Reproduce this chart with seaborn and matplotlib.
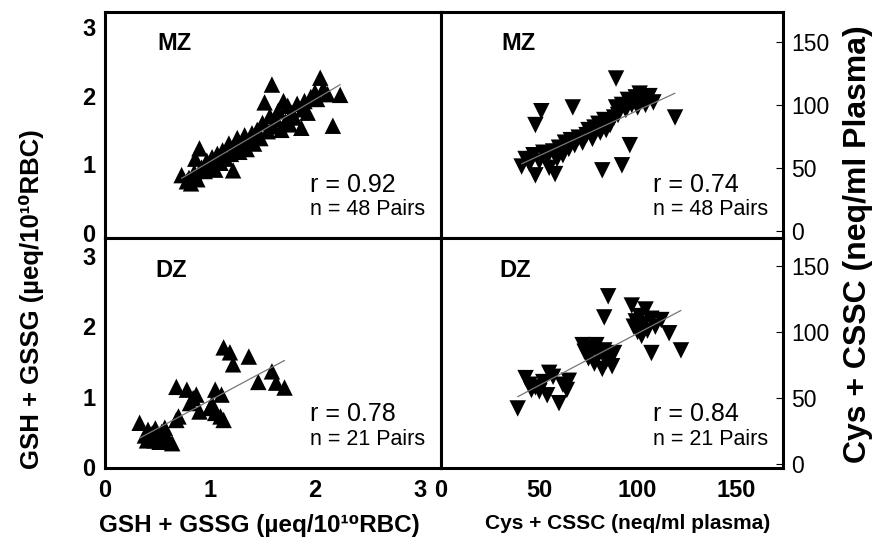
"""
twin_thiols.py
Scatter of twin-pair thiol levels: erythrocyte GSH + GSSG (left column)
and plasma Cys + CSSC (right column), MZ twins on top, DZ twins below.
"""

import matplotlib
matplotlib.use("Agg")
import matplotlib.pyplot as plt
import seaborn as sns

# ── Data ───────────────────────────────────────────────────────────────────
# MZ, GSH + GSSG (µeq/10^10 RBC), twin A vs twin B
mz_gsh_x = [0.73, 0.78, 0.80, 0.82, 0.85, 0.86, 0.88, 0.90, 0.92, 0.95,
            0.97, 1.00, 1.02, 1.05, 1.07, 1.10, 1.12, 1.15, 1.18, 1.20,
            1.22, 1.24, 1.26, 1.28, 1.30, 1.33, 1.35, 1.38, 1.40, 1.42,
            1.45, 1.48, 1.50, 1.52, 1.55, 1.57, 1.59, 1.60, 1.63, 1.65,
            1.68, 1.70, 1.72, 1.74, 1.76, 1.78, 1.80, 1.83, 1.87, 1.88,
            1.90, 1.93, 1.96, 2.00, 2.02, 2.05, 2.08, 2.12, 2.17, 2.24]
mz_gsh_y = [0.84, 0.75, 0.80, 0.72, 0.88, 1.08, 0.78, 1.23, 0.95, 0.90,
            1.05, 0.98, 1.10, 0.92, 1.15, 1.02, 1.20, 1.08, 1.30, 1.15,
            0.91, 1.25, 1.38, 1.18, 1.30, 1.42, 1.22, 1.35, 1.45, 1.30,
            1.50, 1.38, 1.60, 1.90, 1.48, 1.70, 2.16, 1.55, 1.65, 1.78,
            1.50, 1.92, 1.62, 1.85, 1.58, 1.75, 1.68, 1.88, 1.53, 1.80,
            1.92, 1.75, 1.98, 2.05, 1.95, 2.26, 2.10, 2.02, 1.56, 2.01]

# MZ, Cys + CSSC (neq/ml plasma)
mz_cys_x = [41, 43, 45, 47, 48, 48, 50, 51, 52, 54, 55, 57, 58, 59, 60,
            62, 63, 65, 66, 67, 68, 70, 72, 74, 75, 77, 78, 80, 81, 82,
            83, 84, 86, 88, 89, 89, 90, 92, 92, 94, 95, 96, 97, 99, 100,
            101, 102, 104, 106, 108, 119]
mz_cys_y = [51, 57, 53, 60, 44, 84, 55, 95, 62, 58, 50, 63, 45, 57, 66,
            60, 70, 65, 72, 98, 68, 74, 70, 76, 80, 73, 82, 85, 78, 48,
            88, 80, 84, 90, 121, 98, 92, 52, 100, 96, 104, 68, 100, 106, 98,
            109, 103, 100, 107, 102, 90]

# DZ, GSH + GSSG
dz_gsh_x = [0.33, 0.38, 0.40, 0.41, 0.43, 0.45, 0.47, 0.48, 0.50, 0.52,
            0.54, 0.56, 0.57, 0.60, 0.64, 0.68, 0.70, 0.68, 0.78, 0.81,
            0.84, 0.87, 0.90, 1.00, 1.02, 1.05, 1.05, 1.11, 1.13, 1.10,
            1.13, 1.19, 1.22, 1.37, 1.46, 1.59, 1.63, 1.71]
dz_gsh_y = [0.63, 0.45, 0.38, 0.53, 0.42, 0.48, 0.38, 0.55, 0.42, 0.36,
            0.50, 0.44, 0.56, 0.40, 0.34, 0.67, 0.72, 1.14, 1.10, 0.91,
            0.98, 1.03, 0.79, 0.84, 0.90, 1.10, 0.77, 1.03, 0.67, 0.72,
            1.70, 1.63, 1.46, 1.57, 1.21, 1.36, 1.20, 1.13]

# DZ, Cys + CSSC
dz_cys_x = [39, 43, 45, 46, 48, 50, 52, 54, 55, 57, 60, 62, 64, 65, 72,
            73, 75, 76, 78, 79, 80, 82, 83, 83, 84, 85, 86, 87, 88, 97,
            98, 99, 100, 101, 102, 103, 104, 105, 107, 107, 109, 112, 116, 122]
dz_cys_y = [42, 65, 60, 56, 58, 55, 62, 52, 69, 66, 46, 60, 56, 63, 90,
            85, 80, 88, 76, 90, 83, 72, 111, 86, 78, 127, 80, 74, 84, 120,
            104, 108, 100, 112, 97, 106, 117, 101, 84, 110, 104, 109, 99, 86]

groups = ["MZ", "MZ", "DZ", "DZ"]
r_values = ["0.92", "0.74", "0.78", "0.84"]
n_pairs = [48, 48, 21, 21]

gsh_ticks = [0, 1, 2, 3]
cys_ticks = [0, 50, 100, 150]

sns.set_style("white")
plt.rcParams["font.family"] = ["Liberation Sans", "DejaVu Sans"]
plt.rcParams["text.color"] = "black"
plt.rcParams["axes.labelcolor"] = "black"
plt.rcParams["xtick.color"] = "black"
plt.rcParams["ytick.color"] = "black"

fig = plt.figure(figsize=(8.82, 5.39), dpi=100)

L, M, R = 0.119, 0.5, 0.888
B, MID, T = 0.132, 0.558, 0.978
ax_tl = fig.add_axes([L, MID, M - L, T - MID])
ax_tr = fig.add_axes([M, MID, R - M, T - MID])
ax_bl = fig.add_axes([L, B, M - L, MID - B])
ax_br = fig.add_axes([M, B, R - M, MID - B])

panels = [
    (ax_tl, mz_gsh_x, mz_gsh_y, "^"),
    (ax_tr, mz_cys_x, mz_cys_y, "v"),
    (ax_bl, dz_gsh_x, dz_gsh_y, "^"),
    (ax_br, dz_cys_x, dz_cys_y, "v"),
]
label_x = [0.155, 0.175, 0.15, 0.17]

for i, (ax, xs, ys, mk) in enumerate(panels):
    sns.regplot(x=xs, y=ys, ax=ax, ci=None, marker=mk,
                scatter_kws=dict(s=140, color="black", edgecolors="none", alpha=1),
                line_kws=dict(color="#777777", lw=0.9))
    for sp in ax.spines.values():
        sp.set_visible(True)
        sp.set_linewidth(2.2)
        sp.set_color("black")
    ax.tick_params(direction="in", length=5, width=0.8, colors="black")

    ax.text(label_x[i], 0.86, groups[i], transform=ax.transAxes,
            fontsize=17, fontweight="bold", ha="left", va="center")
    tx = 0.61 if i % 2 == 0 else 0.62
    ax.text(tx, 0.235, f"r = {r_values[i]}", transform=ax.transAxes,
            fontsize=18, ha="left", va="center")
    ax.text(tx, 0.125, f"n = {n_pairs[i]} Pairs", transform=ax.transAxes,
            fontsize=15.5, ha="left", va="center")

# ── Left column: GSH + GSSG ────────────────────────────────────────────────
for ax in (ax_tl, ax_bl):
    ax.set_xlim(0, 3.2)
    ax.set_xticks(gsh_ticks)
    ax.set_yticks(gsh_ticks)
    ax.set_yticklabels([str(t) for t in gsh_ticks], fontsize=17, fontweight="bold")
    ax.tick_params(axis="y", pad=7)
ax_tl.set_ylim(-0.08, 3.22)
ax_bl.set_ylim(-0.01, 3.25)

# ── Right column: Cys + CSSC ───────────────────────────────────────────────
for ax in (ax_tr, ax_br):
    ax.set_xlim(0, 174)
    ax.set_xticks(cys_ticks)
    ax.yaxis.tick_right()
    ax.set_yticks(cys_ticks)
    ax.set_yticklabels([str(t) for t in cys_ticks], fontsize=16.5)
    ax.tick_params(axis="y", pad=6)
ax_tr.set_ylim(-6, 174)
ax_br.set_ylim(-3, 171)

for ax in (ax_tl, ax_tr):
    ax.set_xticklabels([])

ax_bl.set_xticklabels([str(t) for t in gsh_ticks], fontsize=17, fontweight="bold")
ax_br.set_xticklabels([str(t) for t in cys_ticks], fontsize=17, fontweight="bold")
ax_bl.tick_params(axis="x", pad=8)
ax_br.tick_params(axis="x", pad=8)

ax_bl.set_xlabel("GSH + GSSG (µeq/10¹⁰RBC)", fontsize=17.5, fontweight="bold")
ax_br.set_xlabel("Cys + CSSC (neq/ml plasma)", fontsize=15, fontweight="bold")
ax_bl.xaxis.set_label_coords(0.46, -0.20)
ax_br.xaxis.set_label_coords(0.545, -0.20)

fig.text(0.036, 0.445, "GSH + GSSG (µeq/10¹⁰RBC)", rotation=90,
         fontsize=18.5, fontweight="bold", ha="center", va="center")
fig.text(0.973, 0.548, "Cys + CSSC (neq/ml Plasma)", rotation=90,
         fontsize=23, fontweight="bold", ha="center", va="center")

fig.savefig("out.png", dpi=100)
plt.close(fig)
